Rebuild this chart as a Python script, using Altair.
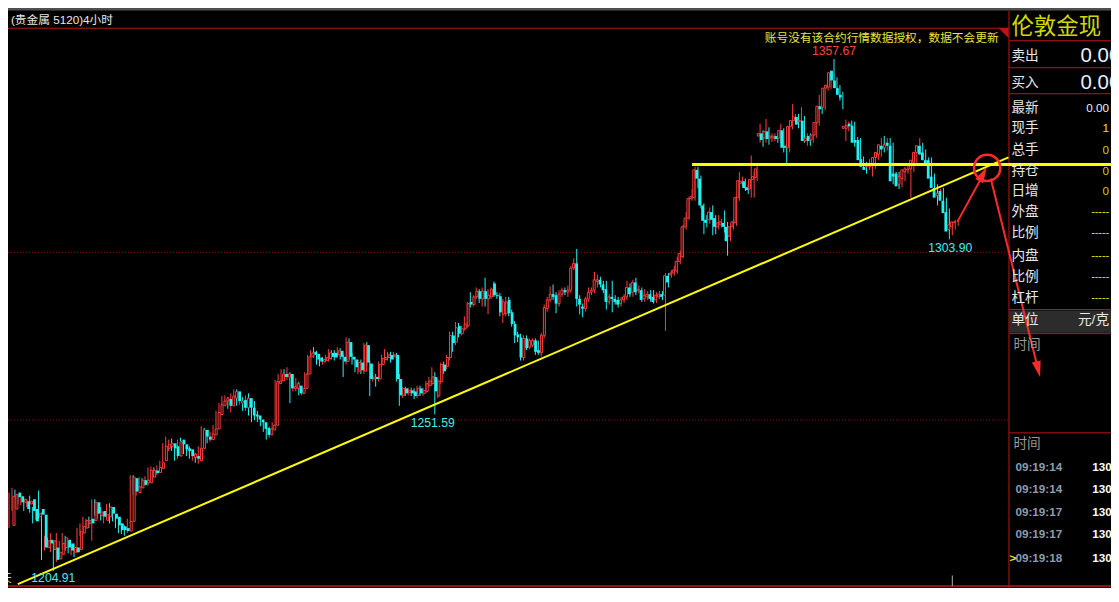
import altair as alt
import pandas as pd

W, H = 1103, 580
SX, SY = W / 1119, H / 602
FS = (SX + SY) / 2
FONT = "Liberation Sans, Noto Sans CJK SC, sans-serif"

# ---- 4-hour candles (price) ----
OPEN = [
 1218.5, 1223.4, 1228.3, 1227.2, 1225.4, 1225.7, 1224.9, 1226.3, 1223.4, 1221.1,
 1223.4, 1221.7, 1211.9, 1214.2, 1211.3, 1211.9, 1208.5, 1209.9, 1211.9, 1214.2,
 1213.1, 1210.5, 1211.9, 1211.3, 1216.2, 1217.7, 1219.1, 1220.5, 1220.0, 1225.4,
 1221.4, 1222.8, 1220.0, 1221.1, 1224.0, 1222.0, 1221.1, 1219.1, 1218.2, 1217.7,
 1216.8, 1219.7, 1232.6, 1228.3, 1229.7, 1232.0, 1231.2, 1231.2, 1232.9, 1234.9,
 1234.3, 1235.5, 1237.8, 1241.5, 1242.1, 1243.0, 1242.1, 1239.2, 1244.1, 1242.7,
 1241.5, 1241.2, 1238.7, 1239.2, 1237.8, 1241.5, 1247.0, 1245.0, 1244.1, 1245.5,
 1247.3, 1251.6, 1254.2, 1255.6, 1256.2, 1254.2, 1256.5, 1258.5, 1255.0, 1255.9,
 1253.6, 1256.5, 1253.6, 1251.6, 1251.3, 1250.1, 1249.3, 1247.6, 1245.5, 1247.0,
 1248.4, 1260.8, 1261.6, 1263.7, 1262.8, 1263.7, 1259.4, 1259.4, 1260.2, 1257.9,
 1259.4, 1263.7, 1268.8, 1270.3, 1269.7, 1268.6, 1267.4, 1267.7, 1268.3, 1270.0,
 1270.0, 1269.4, 1270.6, 1268.8, 1267.4, 1273.2, 1268.8, 1268.0, 1264.5, 1267.1,
 1264.5, 1272.3, 1266.8, 1262.2, 1262.8, 1262.2, 1266.5, 1268.0, 1268.6, 1269.4,
 1268.8, 1269.4, 1262.2, 1257.3, 1259.4, 1258.2, 1258.8, 1258.5, 1257.3, 1259.4,
 1257.9, 1258.5, 1260.2, 1260.8, 1262.8, 1257.1, 1261.4, 1266.5, 1266.0, 1268.6,
 1275.2, 1273.2, 1278.0, 1275.7, 1277.2, 1278.0, 1285.2, 1284.4, 1286.7, 1288.4,
 1286.1, 1288.4, 1286.1, 1286.7, 1290.7, 1287.2, 1286.9, 1281.5, 1281.8, 1285.8,
 1282.1, 1278.6, 1275.5, 1274.6, 1268.6, 1274.3, 1271.7, 1272.3, 1273.7, 1270.8,
 1270.0, 1275.2, 1283.2, 1285.8, 1287.5, 1287.2, 1284.7, 1287.5, 1288.7, 1288.1,
 1288.7, 1295.3, 1296.7, 1286.1, 1283.8, 1283.2, 1286.1, 1288.1, 1288.7, 1291.3,
 1291.8, 1290.4, 1289.0, 1285.2, 1286.7, 1286.1, 1285.8, 1284.7, 1285.8, 1286.7,
 1289.5, 1288.1, 1291.0, 1288.7, 1288.7, 1286.1, 1286.7, 1287.5, 1286.7, 1285.8,
 1286.7, 1287.5, 1287.2, 1293.0, 1293.3, 1293.8, 1294.4, 1297.3, 1298.7, 1307.6,
 1310.2, 1316.0, 1316.3, 1324.6, 1322.0, 1314.0, 1309.7, 1309.7, 1312.0, 1310.2,
 1307.6, 1308.2, 1308.8, 1307.6, 1304.8, 1307.6, 1308.8, 1316.3, 1320.6, 1321.2,
 1319.4, 1318.9, 1321.7, 1322.3, 1334.7, 1335.5, 1334.1, 1336.1, 1334.1, 1334.1,
 1334.7, 1334.1, 1336.4, 1331.8, 1331.2, 1337.6, 1339.3, 1340.4, 1339.0, 1339.3,
 1333.2, 1334.7, 1333.5, 1335.0, 1338.7, 1343.6, 1343.3, 1349.0, 1349.3, 1354.2,
 1351.3, 1349.0, 1347.0, 1337.0, 1337.0, 1338.4, 1337.8, 1333.5, 1333.5, 1327.8,
 1325.5, 1325.5, 1325.5, 1326.3, 1328.3, 1329.2, 1331.8, 1331.2, 1332.7, 1331.8,
 1323.5, 1323.5, 1320.3, 1322.0, 1324.0, 1324.6, 1324.9, 1326.9, 1329.8, 1331.8,
 1329.8, 1327.5, 1327.5, 1322.6, 1319.2, 1316.9, 1318.3, 1315.4, 1312.0, 1306.8,
 1307.6, 1308.8,
]
HIGH = [
 1228.3, 1229.7, 1229.2, 1227.7, 1226.9, 1226.3, 1226.3, 1227.4, 1224.0, 1222.8,
 1228.9, 1222.3, 1215.4, 1214.8, 1216.2, 1213.4, 1216.2, 1213.9, 1216.2, 1215.4,
 1213.9, 1212.8, 1213.1, 1217.7, 1219.1, 1221.1, 1220.5, 1221.1, 1226.3, 1226.3,
 1223.4, 1224.0, 1222.5, 1224.9, 1225.1, 1223.1, 1221.7, 1220.5, 1219.1, 1218.5,
 1220.5, 1233.5, 1233.5, 1230.9, 1232.9, 1232.6, 1233.2, 1235.8, 1236.1, 1235.8,
 1236.4, 1237.8, 1243.0, 1245.0, 1244.1, 1244.4, 1242.7, 1244.1, 1244.7, 1243.5,
 1242.1, 1242.1, 1240.7, 1240.1, 1242.1, 1248.1, 1247.6, 1245.8, 1246.4, 1248.4,
 1252.7, 1255.0, 1257.1, 1257.3, 1256.8, 1257.9, 1259.1, 1259.1, 1256.5, 1256.8,
 1257.3, 1257.9, 1254.5, 1255.6, 1252.7, 1251.0, 1249.9, 1248.4, 1248.1, 1249.3,
 1261.9, 1263.7, 1265.1, 1265.1, 1265.7, 1264.2, 1260.8, 1262.5, 1261.4, 1260.2,
 1264.2, 1269.4, 1270.8, 1271.7, 1270.6, 1269.4, 1268.8, 1269.4, 1271.1, 1270.8,
 1270.8, 1271.7, 1271.4, 1269.4, 1274.6, 1274.3, 1270.0, 1268.8, 1268.0, 1268.0,
 1272.9, 1273.2, 1267.7, 1264.2, 1263.7, 1267.4, 1269.4, 1271.1, 1270.3, 1270.3,
 1270.3, 1270.0, 1263.7, 1259.9, 1259.9, 1259.6, 1259.6, 1259.4, 1260.2, 1260.2,
 1259.6, 1261.6, 1262.8, 1265.7, 1264.2, 1262.2, 1267.1, 1267.4, 1269.4, 1276.3,
 1276.3, 1279.2, 1278.9, 1278.0, 1280.9, 1285.2, 1288.1, 1287.2, 1289.5, 1289.0,
 1289.5, 1292.4, 1289.0, 1289.5, 1291.3, 1288.1, 1287.8, 1286.1, 1286.7, 1286.7,
 1282.9, 1279.5, 1276.3, 1275.7, 1275.2, 1275.2, 1274.3, 1274.3, 1274.3, 1273.7,
 1276.0, 1284.4, 1286.7, 1289.8, 1290.4, 1288.1, 1288.7, 1289.5, 1289.5, 1290.1,
 1295.9, 1298.2, 1301.0, 1287.2, 1284.7, 1286.7, 1289.5, 1289.5, 1294.1, 1293.3,
 1292.7, 1291.5, 1291.5, 1287.5, 1291.5, 1287.2, 1286.7, 1286.7, 1287.5, 1291.5,
 1290.7, 1291.8, 1292.4, 1290.1, 1289.5, 1289.0, 1288.4, 1288.7, 1288.7, 1288.1,
 1288.4, 1288.4, 1293.8, 1293.8, 1294.7, 1295.9, 1298.7, 1300.5, 1308.2, 1312.0,
 1316.6, 1318.9, 1325.5, 1325.5, 1322.9, 1314.6, 1311.1, 1313.4, 1314.0, 1311.1,
 1311.1, 1310.0, 1312.5, 1309.1, 1308.5, 1310.0, 1316.9, 1324.0, 1322.6, 1322.0,
 1320.3, 1328.9, 1324.0, 1326.0, 1338.4, 1336.4, 1339.8, 1337.3, 1335.5, 1335.5,
 1335.5, 1338.4, 1337.0, 1332.7, 1338.4, 1344.2, 1341.3, 1341.3, 1343.3, 1340.7,
 1335.5, 1335.5, 1336.1, 1339.3, 1347.0, 1344.2, 1349.9, 1350.5, 1354.2, 1357.67,
 1352.2, 1349.9, 1347.9, 1339.6, 1339.0, 1339.3, 1339.0, 1334.4, 1334.1, 1328.6,
 1326.9, 1327.8, 1328.3, 1329.2, 1330.4, 1334.1, 1334.7, 1334.1, 1334.1, 1332.7,
 1324.0, 1324.0, 1323.5, 1325.5, 1326.0, 1327.5, 1328.3, 1330.7, 1334.1, 1332.7,
 1330.7, 1328.3, 1328.3, 1323.5, 1320.3, 1318.9, 1319.2, 1316.3, 1313.1, 1309.1,
 1309.7, 1309.7,
]
LOW = [
 1217.7, 1222.8, 1226.3, 1224.9, 1224.6, 1222.8, 1224.0, 1222.3, 1219.1, 1220.0,
 1220.5, 1208.2, 1211.0, 1211.9, 1210.5, 1204.91, 1207.6, 1209.0, 1211.3, 1211.0,
 1210.2, 1209.6, 1209.0, 1210.2, 1215.4, 1217.1, 1218.2, 1217.7, 1213.9, 1221.4,
 1220.5, 1220.0, 1219.1, 1220.5, 1219.1, 1219.7, 1217.7, 1216.2, 1215.9, 1215.4,
 1216.2, 1219.1, 1227.7, 1227.4, 1229.2, 1229.7, 1230.3, 1230.3, 1232.0, 1232.9,
 1233.5, 1234.9, 1237.2, 1240.7, 1240.7, 1240.7, 1237.8, 1238.4, 1241.2, 1239.8,
 1239.2, 1238.4, 1237.8, 1237.2, 1236.9, 1240.7, 1243.5, 1243.0, 1243.5, 1245.0,
 1246.4, 1251.0, 1253.3, 1254.8, 1253.3, 1252.2, 1255.9, 1254.2, 1254.5, 1252.7,
 1252.7, 1251.3, 1249.3, 1249.9, 1249.3, 1248.1, 1246.4, 1244.1, 1244.7, 1246.4,
 1247.8, 1260.2, 1260.8, 1261.9, 1261.9, 1255.0, 1258.5, 1258.5, 1257.3, 1257.3,
 1258.5, 1263.1, 1268.0, 1268.6, 1266.5, 1266.0, 1266.5, 1267.1, 1267.4, 1268.0,
 1267.7, 1268.8, 1268.0, 1262.8, 1266.5, 1268.0, 1266.5, 1264.2, 1263.7, 1263.7,
 1263.7, 1266.0, 1257.1, 1261.4, 1259.9, 1261.4, 1265.7, 1267.1, 1267.7, 1267.1,
 1268.0, 1261.4, 1254.2, 1256.5, 1257.1, 1257.3, 1257.1, 1256.2, 1256.5, 1257.1,
 1257.1, 1257.9, 1259.6, 1260.2, 1251.59, 1256.5, 1260.8, 1263.7, 1265.1, 1267.7,
 1270.3, 1272.3, 1274.6, 1275.2, 1276.6, 1277.5, 1283.5, 1283.8, 1286.1, 1284.9,
 1283.8, 1283.8, 1281.5, 1286.1, 1286.7, 1286.1, 1280.9, 1278.9, 1280.9, 1280.9,
 1277.8, 1272.9, 1273.2, 1267.7, 1267.7, 1270.8, 1271.1, 1271.7, 1269.4, 1269.4,
 1268.8, 1274.3, 1282.3, 1285.2, 1285.8, 1281.8, 1283.8, 1286.7, 1287.2, 1286.7,
 1287.8, 1294.7, 1283.8, 1281.5, 1280.6, 1282.3, 1285.2, 1287.2, 1287.8, 1289.5,
 1289.5, 1287.8, 1282.9, 1284.4, 1282.1, 1284.4, 1283.5, 1283.8, 1284.9, 1285.8,
 1286.7, 1286.7, 1287.2, 1287.8, 1285.2, 1285.2, 1285.8, 1285.2, 1284.7, 1284.9,
 1286.1, 1285.8, 1276.6, 1289.5, 1292.4, 1293.0, 1293.6, 1296.4, 1298.2, 1306.8,
 1309.7, 1315.4, 1315.4, 1319.2, 1313.1, 1305.4, 1307.4, 1308.5, 1305.1, 1305.4,
 1306.8, 1307.4, 1305.9, 1299.0, 1303.3, 1306.8, 1307.9, 1315.4, 1319.7, 1318.3,
 1317.4, 1316.3, 1316.3, 1321.2, 1332.7, 1331.5, 1332.7, 1332.1, 1332.9, 1333.2,
 1332.7, 1332.7, 1329.8, 1326.3, 1329.8, 1336.7, 1338.4, 1337.0, 1337.8, 1332.7,
 1331.8, 1331.8, 1332.7, 1334.1, 1337.8, 1341.3, 1342.4, 1348.2, 1348.8, 1350.5,
 1348.2, 1345.3, 1342.7, 1333.2, 1336.1, 1336.4, 1331.5, 1331.8, 1326.3, 1324.6,
 1323.5, 1324.6, 1322.6, 1324.9, 1327.5, 1328.6, 1329.8, 1330.4, 1331.0, 1320.3,
 1321.7, 1318.9, 1319.4, 1321.2, 1323.5, 1316.3, 1324.0, 1326.0, 1329.2, 1328.3,
 1326.3, 1324.9, 1319.2, 1318.3, 1314.0, 1316.0, 1314.0, 1310.8, 1303.90, 1305.1,
 1306.8, 1307.9,
]
CLOSE = [
 1227.2, 1227.7, 1226.9, 1225.4, 1226.3, 1223.4, 1225.7, 1222.8, 1219.7, 1222.0,
 1221.7, 1211.9, 1213.9, 1213.1, 1213.9, 1208.2, 1210.5, 1213.1, 1214.8, 1211.9,
 1211.0, 1211.9, 1210.5, 1216.8, 1218.2, 1220.0, 1220.0, 1219.1, 1225.4, 1222.0,
 1222.5, 1221.1, 1221.7, 1224.0, 1222.0, 1220.5, 1218.5, 1217.1, 1217.1, 1216.8,
 1219.7, 1232.9, 1228.6, 1230.0, 1232.0, 1230.6, 1232.0, 1234.9, 1234.9, 1234.1,
 1235.8, 1237.2, 1242.1, 1242.7, 1243.0, 1241.5, 1239.2, 1243.5, 1242.7, 1241.2,
 1240.7, 1239.2, 1239.8, 1238.4, 1241.5, 1247.0, 1245.0, 1244.1, 1245.8, 1247.3,
 1252.2, 1254.5, 1255.6, 1256.5, 1254.2, 1257.1, 1258.5, 1255.6, 1255.6, 1253.6,
 1256.5, 1253.6, 1251.3, 1251.0, 1250.1, 1249.3, 1247.3, 1245.5, 1247.3, 1248.4,
 1261.4, 1261.6, 1263.7, 1262.8, 1263.7, 1259.4, 1259.9, 1260.8, 1257.9, 1259.4,
 1263.7, 1268.8, 1270.0, 1269.4, 1268.0, 1267.4, 1268.0, 1268.6, 1270.0, 1268.8,
 1268.6, 1270.6, 1268.8, 1267.4, 1273.2, 1268.8, 1268.0, 1265.7, 1267.1, 1264.8,
 1272.3, 1267.1, 1262.2, 1262.8, 1262.2, 1266.5, 1268.3, 1268.6, 1269.4, 1268.0,
 1269.4, 1262.2, 1257.3, 1259.4, 1257.9, 1258.8, 1257.9, 1257.1, 1259.4, 1257.9,
 1258.8, 1260.8, 1261.6, 1262.8, 1258.5, 1261.6, 1266.5, 1264.5, 1268.6, 1275.2,
 1272.9, 1277.5, 1275.7, 1277.2, 1278.6, 1284.7, 1284.4, 1286.7, 1288.4, 1286.1,
 1288.4, 1286.1, 1287.2, 1289.0, 1287.2, 1286.9, 1282.1, 1285.2, 1285.2, 1281.8,
 1278.6, 1275.2, 1274.6, 1268.6, 1274.3, 1271.4, 1273.7, 1273.7, 1270.3, 1270.0,
 1275.2, 1283.5, 1285.8, 1287.5, 1286.7, 1284.7, 1287.5, 1288.7, 1288.1, 1288.7,
 1295.3, 1296.7, 1286.1, 1284.4, 1283.2, 1286.1, 1288.1, 1288.7, 1291.8, 1291.8,
 1290.4, 1288.7, 1285.2, 1286.7, 1286.1, 1285.2, 1284.4, 1285.8, 1286.7, 1289.5,
 1287.5, 1291.0, 1288.1, 1289.0, 1285.8, 1287.2, 1287.5, 1286.1, 1285.2, 1287.2,
 1287.5, 1286.7, 1293.0, 1291.0, 1293.8, 1294.7, 1297.3, 1299.6, 1307.6, 1310.2,
 1316.0, 1316.6, 1324.6, 1322.0, 1314.0, 1309.4, 1308.8, 1312.0, 1309.7, 1307.6,
 1308.8, 1309.1, 1307.6, 1303.3, 1307.6, 1309.1, 1316.3, 1321.4, 1321.2, 1319.2,
 1318.6, 1321.7, 1322.6, 1324.9, 1335.5, 1333.5, 1336.1, 1333.8, 1334.7, 1334.7,
 1333.8, 1336.4, 1331.2, 1331.2, 1337.6, 1339.3, 1340.4, 1338.1, 1339.3, 1333.2,
 1334.1, 1333.2, 1335.0, 1338.7, 1343.6, 1342.7, 1349.0, 1349.9, 1353.6, 1351.3,
 1349.0, 1347.0, 1346.2, 1337.6, 1337.8, 1337.6, 1332.7, 1332.7, 1327.5, 1325.5,
 1324.6, 1326.0, 1326.3, 1328.3, 1329.8, 1332.1, 1330.7, 1332.1, 1331.8, 1321.2,
 1322.6, 1319.7, 1322.6, 1324.6, 1324.9, 1324.9, 1327.5, 1329.8, 1331.8, 1329.2,
 1327.5, 1326.3, 1322.0, 1319.2, 1316.3, 1317.7, 1315.4, 1311.7, 1306.2, 1308.2,
 1309.1, 1309.1,
]

# ---- annotations drawn by the analyst (index, price) ----
GRID_P = [1300.0, 1250.0]
SEG_I1 = [3.0, 231.0, 320.7, 332.0]
SEG_P1 = [1200.97, 1326.19, 1309.08, 1322.02]
SEG_I2 = [338.0, 372.67, 330.0, 348.0]
SEG_P2 = [1328.34, 1326.19, 1324.03, 1265.09]
SEG_COL = ["#ffff00", "#ffff00", "#ff2a2a", "#ff2a2a"]
SEG_W = [2.0, 3.0, 2.0, 2.0]
HEAD_I = [330.67, 348.67]
HEAD_P = [1325.47, 1262.79]
HEAD_ANGLE = [28.5, 166.4]
CIRCLE_I = [330.8]
CIRCLE_P = [1325.18]
LABEL_TEXT = ["1357.67", "1303.90", "1251.59", "1204.91"]
LABEL_I = [279.0, 318.3, 143.3, 15.0]
LABEL_P = [1359.97, 1301.32, 1248.99, 1202.70]
LABEL_COL = ["#ff4040", "#3ef0f0", "#3ef0f0", "#3ef0f0"]

RED = "#ff3c3c"
CYAN = "#22f2f2"
BORDER = "#c01414"
YEL = "#e8e800"
WHITE = "#e8e8e8"
GRAY = "#9a9a9a"

n = min(len(OPEN), len(HIGH), len(LOW), len(CLOSE))
candles = pd.DataFrame({"i": list(range(n)), "open": OPEN[:n], "high": HIGH[:n],
                        "low": LOW[:n], "close": CLOSE[:n]})

xs = alt.Scale(domain=[-1 / 3, 1118 / 3], nice=False, zero=False)
ys = alt.Scale(domain=[1199.82, 1372.91], nice=False, zero=False)


def XD(f):
    return alt.X(f, type="quantitative", scale=xs, axis=None)


def YD(f):
    return alt.Y(f, type="quantitative", scale=ys, axis=None)


def XP(f):
    return alt.X(f, type="quantitative", scale=None, axis=None)


def YP(f):
    return alt.Y(f, type="quantitative", scale=None, axis=None)


# ---- screen furniture (reference pixel positions, scaled) ----
FR_X1 = [0, 0, 1015.5, 1016, 1016, 1016, 1016, 1016, 1016, 0, 958]
FR_Y1 = [1, 21, 3, 34, 62, 89, 313, 338, 441, 600, 589]
FR_X2 = [1119, 1015, 1015.5, 1119, 1119, 1119, 1119, 1119, 1119, 1119, 958]
FR_Y2 = [1, 21, 602, 34, 62, 89, 313, 338, 441, 600, 600]
FR_COL = ["#505050", BORDER, BORDER, BORDER, BORDER, BORDER, BORDER, BORDER, BORDER, BORDER, "#b0b0b0"]
FR_W = [3, 1, 1, 1, 1, 1, 1, 1, 1, 1.5, 1]
frame = pd.DataFrame({"x1": [v * SX for v in FR_X1], "y1": [v * SY for v in FR_Y1],
                      "x2": [v * SX for v in FR_X2], "y2": [v * SY for v in FR_Y2],
                      "c": FR_COL, "w": FR_W})

unit_bg = pd.DataFrame({"x1": [1016 * SX], "x2": [1119 * SX], "y1": [314 * SY], "y2": [337 * SY]})
corner = pd.DataFrame({"x": [1010 * SX], "y": [26 * SY]})

L_TEXT = ["(贵金属 5120)4小时", "伦敦金现", "卖出", "买入", "最新", "现手", "总手", "持仓", "日增",
          "外盘", "比例", "内盘", "比例", "杠杆", "单位", "时间", "时间", "0.00", "0.00", "天"]
L_X = [3, 1018, 1018, 1018, 1018, 1018, 1018, 1018, 1018, 1018, 1018, 1018, 1018, 1018, 1018,
       1020, 1020, 1088, 1088, -8]
L_Y = [12, 20, 50, 78, 104, 125, 147, 169, 190, 212, 234, 257, 279, 301, 324, 350, 453, 50, 78, 592]
L_S = [12, 23, 14, 14, 14, 14, 14, 14, 14, 14, 14, 14, 14, 14, 14, 14, 14, 21, 21, 12]
L_C = [WHITE, "#d0d800", WHITE, WHITE, WHITE, WHITE, WHITE, WHITE, WHITE, WHITE, WHITE, WHITE,
       WHITE, WHITE, WHITE, GRAY, GRAY, "#e4f0ff", "#e4f0ff", YEL]

R_TEXT = ["账号没有该合约行情数据授权，数据不会更新", "0.00", "1", "0", "0", "0",
          "-----", "-----", "-----", "-----", "-----", "元/克"]
R_X = [1005, 1117, 1117, 1117, 1117, 1117, 1117, 1117, 1117, 1117, 1117, 1117]
R_Y = [31, 104, 125, 147, 169, 190, 212, 234, 257, 279, 301, 324]
R_S = [12, 12, 12, 12, 12, 12, 11, 11, 11, 11, 11, 14]
R_C = ["#e6e640", "#e4f0ff", YEL, "#c8d000", "#c8d000", "#c8d000", YEL, YEL, YEL, YEL, YEL, WHITE]

B_TEXT = ["09:19:14", "09:19:14", "09:19:17", "09:19:17", "09:19:18",
          "1304.2", "1304.2", "1304.2", "1304.2", "1304.2", ">"]
B_X = [1022, 1022, 1022, 1022, 1022, 1100, 1100, 1100, 1100, 1100, 1016]
B_Y = [476, 499, 523, 546, 571, 476, 499, 523, 546, 571, 571]
B_C = ["#8e9cae"] * 5 + ["#ffffff"] * 5 + [YEL]


def text_df(t, x, y, s, c):
    return pd.DataFrame({"t": t, "x": [v * SX for v in x], "y": [v * SY for v in y],
                         "s": [v * FS for v in s], "c": c})


def text_layer(df, align, bold=False):
    return alt.Chart(df).mark_text(align=align, baseline="middle", font=FONT,
                                   fontWeight="bold" if bold else "normal").encode(
        x=XP("x"), y=YP("y"), text="t:N",
        color=alt.Color("c:N", scale=None), size=alt.Size("s:Q", scale=None))


layers = []
layers.append(alt.Chart(unit_bg).mark_rect(color="#2c2c2c").encode(
    x=XP("x1"), x2="x2:Q", y=YP("y1"), y2="y2:Q"))
layers.append(alt.Chart(frame).mark_rule().encode(
    x=XP("x1"), x2="x2:Q", y=YP("y1"), y2="y2:Q",
    color=alt.Color("c:N", scale=None), strokeWidth=alt.StrokeWidth("w:Q", scale=None)))
layers.append(alt.Chart(corner).mark_point(shape="M-1,-1L1,-1L1,1Z", filled=True, size=100,
                                           color=BORDER, opacity=1).encode(x=XP("x"), y=YP("y")))

grid = pd.DataFrame({"p": GRID_P})
layers.append(alt.Chart(grid).mark_rule(color="#8c0000", strokeWidth=1, strokeDash=[1, 2]).encode(
    y=YD("p"), x=alt.value(0), x2=alt.value(1015 * SX)))

# candles
up_test = "datum.close >= datum.open"
layers.append(alt.Chart(candles).mark_rule(strokeWidth=1).encode(
    x=XD("i"), y=YD("low"), y2="high:Q",
    color=alt.condition(up_test, alt.value(RED), alt.value(CYAN))))
layers.append(alt.Chart(candles).transform_filter(up_test).mark_bar(
    size=2.0, fill="#000000", stroke=RED, strokeWidth=1).encode(x=XD("i"), y=YD("open"), y2="close:Q"))
layers.append(alt.Chart(candles).transform_filter("datum.close < datum.open").mark_bar(
    size=2.8, color=CYAN).encode(x=XD("i"), y=YD("open"), y2="close:Q"))

# analyst lines, arrows, circle
segs = pd.DataFrame({"i1": SEG_I1, "p1": SEG_P1, "i2": SEG_I2, "p2": SEG_P2, "c": SEG_COL, "w": SEG_W})
layers.append(alt.Chart(segs).mark_rule().encode(
    x=XD("i1"), x2="i2:Q", y=YD("p1"), y2="p2:Q",
    color=alt.Color("c:N", scale=None), strokeWidth=alt.StrokeWidth("w:Q", scale=None)))
heads = pd.DataFrame({"i": HEAD_I, "p": HEAD_P, "a": HEAD_ANGLE})
layers.append(alt.Chart(heads).mark_point(shape="M0,0L0.9,3.2L-0.9,3.2Z", filled=True, size=100,
                                          color="#ff2a2a", opacity=1).encode(
    x=XD("i"), y=YD("p"), angle=alt.Angle("a:Q", scale=None)))
circ = pd.DataFrame({"i": CIRCLE_I, "p": CIRCLE_P})
layers.append(alt.Chart(circ).mark_point(shape="circle", filled=False, size=690, color="#ff2a2a",
                                         strokeWidth=2.5, opacity=1).encode(x=XD("i"), y=YD("p")))

labels = pd.DataFrame({"t": LABEL_TEXT, "i": LABEL_I, "p": LABEL_P, "c": LABEL_COL})
layers.append(alt.Chart(labels).mark_text(font=FONT, fontSize=12.5 * FS, baseline="middle",
                                          align="center").encode(
    x=XD("i"), y=YD("p"), text="t:N", color=alt.Color("c:N", scale=None)))

layers.append(text_layer(text_df(L_TEXT, L_X, L_Y, L_S, L_C), "left"))
layers.append(text_layer(text_df(R_TEXT, R_X, R_Y, R_S, R_C), "right"))
layers.append(text_layer(text_df(B_TEXT, B_X, B_Y, [12] * len(B_TEXT), B_C), "left", bold=True))

chart = alt.layer(*layers).resolve_scale(
    x="independent", y="independent", color="independent", size="independent",
    strokeWidth="independent", angle="independent"
).properties(
    width=W, height=H, background="#000000", padding=0,
    autosize=alt.AutoSizeParams(type="none")
).configure_view(strokeWidth=0)

chart.save("out.html", embed_options={"renderer": "svg", "actions": False})
